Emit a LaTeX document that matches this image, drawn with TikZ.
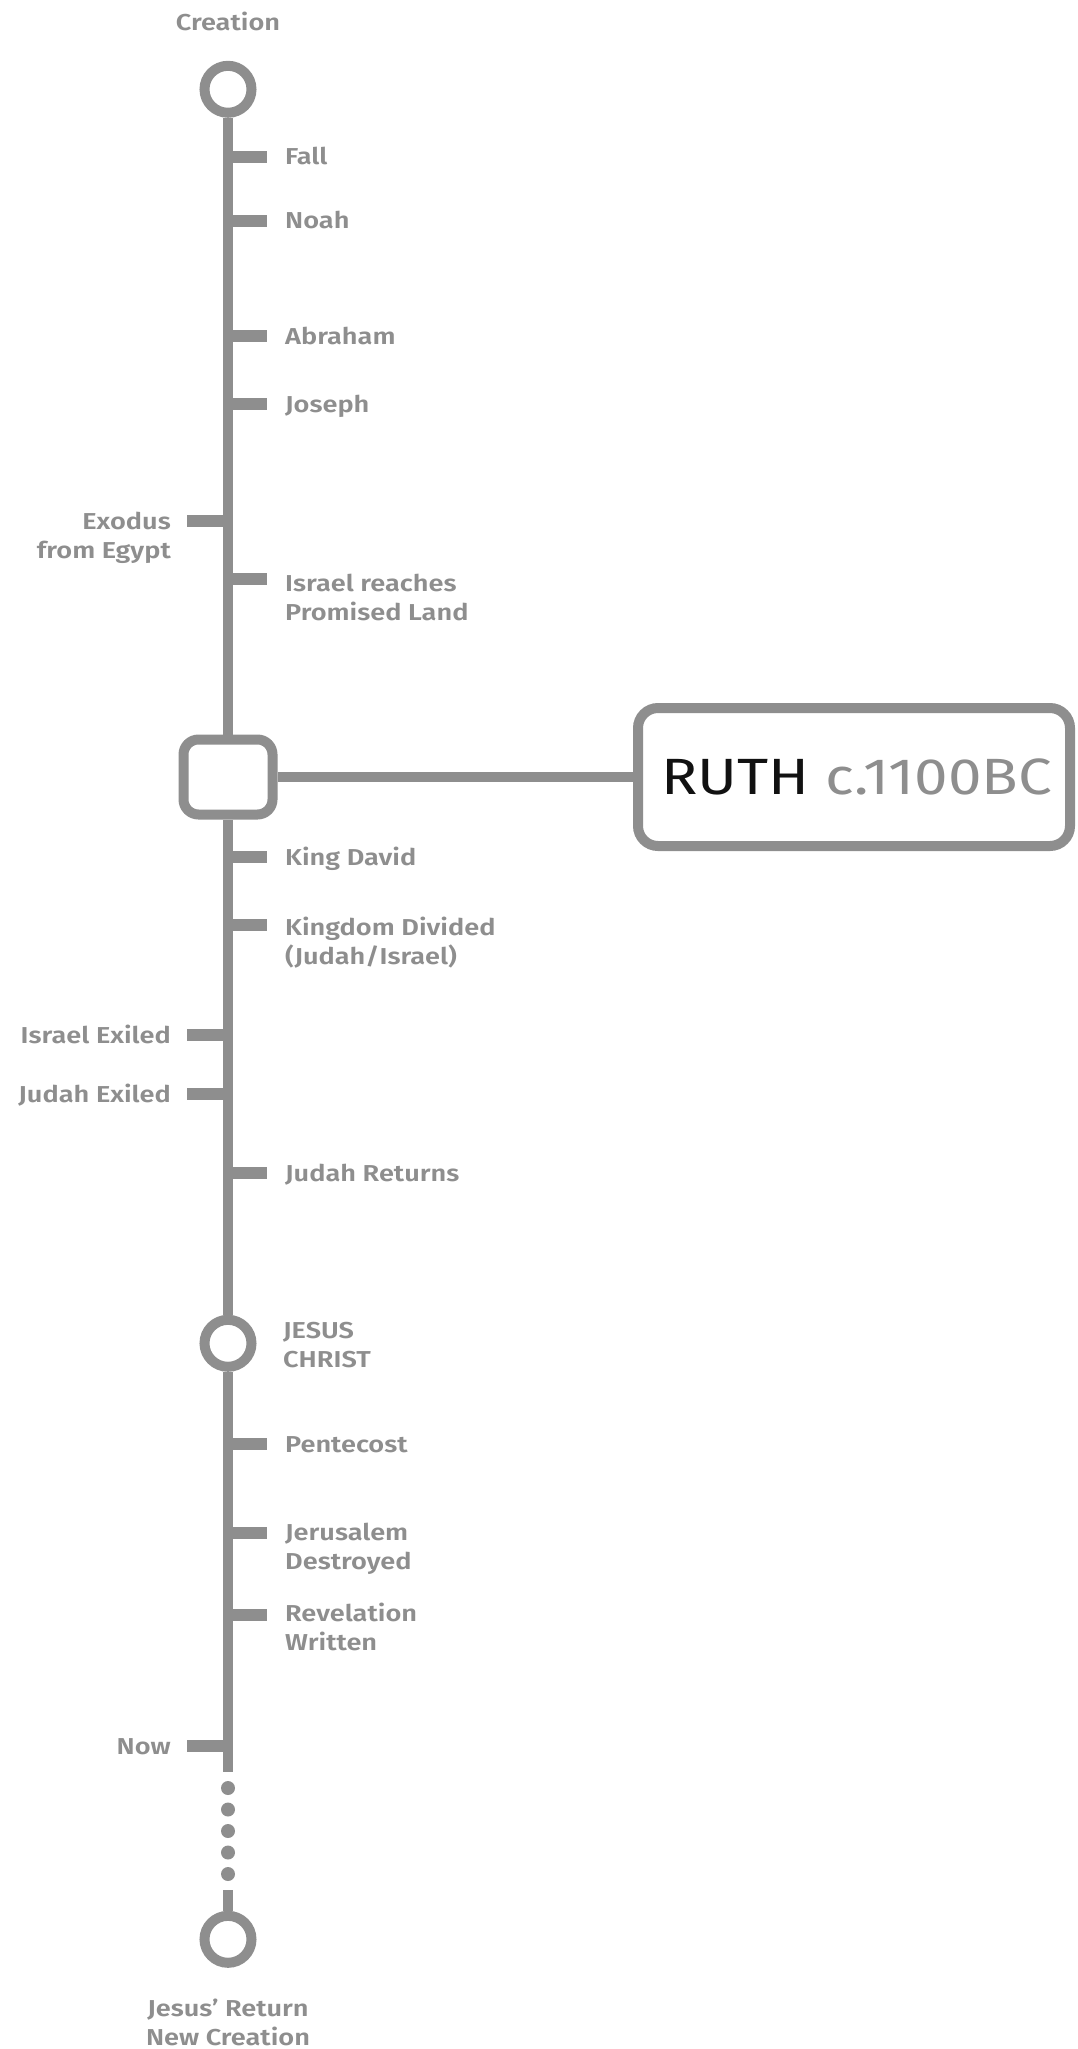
\documentclass[tikz,border=0pt]{standalone}
\usepackage{fontspec}
\setmainfont{Fira Sans}[BoldFont={* SemiBold},FakeStretch=1.18]
\definecolor{tl}{HTML}{8E8E8E}
\definecolor{ink}{HTML}{111111}
\newcommand\labfont{\fontsize{23}{29}\selectfont\bfseries}
\newcommand\LtL[1]{\vtop{\halign{##\hfil\cr#1\crcr}}}
\newcommand\LtR[1]{\vtop{\halign{\hfil##\cr#1\crcr}}}
\newcommand\LtC[1]{\vtop{\halign{\hfil##\hfil\cr#1\crcr}}}
\begin{document}
\begin{tikzpicture}[x=1pt,y=-1pt,
  tline/.style={draw=tl,line width=10pt},
  ring/.style={circle,draw=tl,line width=10pt,fill=white,minimum size=47pt,inner sep=0pt},
  sqbox/.style={rectangle,rounded corners=15pt,draw=tl,line width=10pt,fill=white,minimum width=89pt,minimum height=75pt,inner sep=0pt},
  bigbox/.style={rectangle,rounded corners=20pt,draw=tl,line width=10pt,fill=white,minimum width=432pt,minimum height=138pt,inner sep=0pt,font=\fontsize{51}{60}\selectfont,text=ink},
  tickmark/.style={draw=tl,line width=12pt},
  rlab/.style={anchor=base west,inner sep=0pt,text=tl,font=\labfont},
  llab/.style={anchor=base east,inner sep=0pt,text=tl,font=\labfont},
  clab/.style={anchor=base,inner sep=0pt,text=tl,font=\labfont},
  dot/.style={fill=tl}]
\useasboundingbox (0,0) rectangle (1077,2049);
% main nodes
\node[ring] (creation) at (228,89.3) {};
\node[sqbox] (sq) at (228,777) {};
\node[ring] (jesus) at (228,1343.3) {};
\node[ring] (ret) at (228,1939.3) {};
\node[bigbox] (ruth) at (854,777) {\hspace*{6pt}RUTH \textcolor{tl}{c.1100BC}};
\coordinate (nowend) at (228,1772);
\coordinate (stub) at (228,1890);
% spine
\draw[tline] (creation.south) -- (sq.north);
\draw[tline] (sq.south) -- (jesus.north);
\draw[tline] (jesus.south) -- (nowend);
\draw[tline] (stub) -- (ret.north);
\draw[tline] (sq.east) -- (ruth.west);
% dots
\foreach \yy in {1788,1809.5,1831,1852.5,1874} \fill[dot] (228,\yy) circle (7pt);
% right ticks
\foreach \yy in {157.3,220.7,336,404.3,579.3,856.7,925,1173.3,1444.3,1532.7,1615}
  \draw[tickmark] (228,\yy) -- (267,\yy);
% left ticks
\foreach \yy in {521,1035,1094.3,1745.7}
  \draw[tickmark] (187,\yy) -- (228,\yy);
% labels
\node[clab] (tcreation) at (228,30.7) {Creation};
\node[rlab] (tfall) at (285,165) {Fall};
\node[rlab] (tnoah) at (285,229) {Noah};
\node[rlab] (tabraham) at (285,344) {Abraham};
\node[rlab] (tjoseph) at (285,412) {Joseph};
\node[llab] (texodus) at (171,529) {\LtR{Exodus\cr from Egypt}};
\node[rlab] (tisrael) at (285,591) {\LtL{Israel reaches\cr Promised Land}};
\node[rlab] (tdavid) at (285,865) {King David};
\node[rlab] (tdivided) at (285,935) {\LtL{Kingdom Divided\cr (Judah/Israel)}};
\node[llab] (tisrex) at (171,1043) {Israel Exiled};
\node[llab] (tjudex) at (171,1102) {Judah Exiled};
\node[rlab] (tjudret) at (285,1181) {Judah Returns};
\node[rlab] (tjesus) at (283,1338) {\LtL{JESUS\cr CHRIST}};
\node[rlab] (tpent) at (285,1452) {Pentecost};
\node[rlab] (tjerus) at (285,1540) {\LtL{Jerusalem\cr Destroyed}};
\node[rlab] (trev) at (285,1621) {\LtL{Revelation\cr Written}};
\node[llab] (tnow) at (171,1754) {Now};
\node[clab] (treturn) at (228,2016) {\LtC{Jesus’ Return\cr New Creation}};
\end{tikzpicture}
\end{document}
